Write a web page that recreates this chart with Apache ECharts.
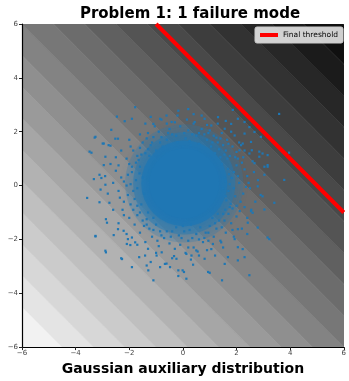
<!DOCTYPE html>
<html>
<head>
<meta charset="utf-8">
<script src="https://cdn.jsdelivr.net/npm/echarts@6/dist/echarts.min.js"></script>
<style>
html, body { margin: 0; padding: 0; background: #fff; }
#main { width: 349px; height: 381px; }
</style>
</head>
<body>
<div id="main"></div>
<script>
// contour levels of x + y (filled bands, light -> dark)
var levels = [-12, -10.5, -9.33, -8.17, -7, -5.83, -4.67, -3.5, -2.33, -1.17, 0,
              1.17, 2.33, 3.5, 4.67, 5.83, 7, 8.17, 9.33, 10.5, 12];

// final threshold line x + y = 5
var thresholdX = [-1, 6];
var thresholdY = [6, -1];

// centre of the dense sample core
var coreCenter = [0.05, 0.08];

// samples around the core
var ringPts = [
  [1.55,0.3],[1.7,-0.2],[1.9,0.5],[2.1,0.1],[1.62,-0.55],[1.85,-0.85],[2.25,-0.3],[1.45,0.8],[2.0,0.75],[2.4,0.35],
  [1.75,0.05],[2.15,-0.6],[1.5,-0.1],[1.95,-0.4],[2.3,0.6],[1.68,0.62],[2.05,1.0],[1.58,-0.9],[2.5,-0.1],[1.82,0.28],
  [1.2,1.2],[1.4,1.05],[1.05,1.45],[1.6,1.3],[1.3,1.6],[0.9,1.7],[1.75,1.1],[1.5,1.5],[1.15,1.85],[1.85,1.45],
  [1.0,2.05],[1.65,1.7],[1.35,1.35],[2.0,1.25],[0.8,1.9],[1.45,1.95],
  [0.3,1.5],[0.1,1.75],[-0.2,1.6],[0.5,1.85],[-0.4,1.9],[0.2,2.05],[-0.1,2.2],[0.6,1.55],[0.4,2.3],[-0.6,1.7],
  [0.0,1.45],[-0.3,2.35],[0.7,2.1],[0.25,1.65],[-0.5,2.1],[0.15,2.45],
  [-1.0,1.3],[-1.2,1.5],[-0.85,1.6],[-1.4,1.2],[-1.1,1.8],[-1.6,1.4],[-0.9,2.0],[-1.35,1.75],[-1.7,1.1],[-1.25,1.1],
  [-1.5,1.6],[-0.75,1.45],[-1.85,1.3],[-1.05,2.2],[-1.6,1.9],
  [-1.5,0.3],[-1.7,-0.1],[-1.9,0.5],[-2.1,0.0],[-1.6,0.7],[-1.8,-0.5],[-2.3,0.3],[-1.45,-0.3],[-2.0,0.8],[-2.4,-0.2],
  [-1.75,0.2],[-2.2,-0.6],[-1.55,-0.7],[-1.95,0.05],[-2.5,0.55],[-1.65,0.95],[-2.1,1.0],[-2.35,-0.45],[-1.85,-0.9],[-2.6,0.1],
  [-1.1,-1.2],[-1.3,-1.0],[-1.0,-1.45],[-1.5,-1.3],[-1.25,-1.6],[-0.85,-1.7],[-1.7,-1.1],[-1.45,-1.5],[-1.15,-1.9],[-1.8,-1.45],
  [-0.95,-2.05],[-1.6,-1.75],[-1.35,-1.25],[-2.0,-1.2],[-0.8,-1.85],[-1.4,-2.1],
  [0.3,-1.45],[0.05,-1.7],[-0.25,-1.55],[0.5,-1.8],[-0.45,-1.9],[0.2,-2.05],[-0.1,-2.2],[0.65,-1.55],[0.4,-2.3],[-0.6,-1.7],
  [0.0,-1.5],[-0.3,-2.35],[0.75,-2.1],[0.25,-1.65],[-0.5,-2.15],[0.1,-2.5],[-0.15,-1.85],[0.55,-2.45],
  [1.1,-1.2],[1.3,-1.05],[1.0,-1.5],[1.55,-1.3],[1.25,-1.6],[0.85,-1.75],[1.7,-1.05],[1.45,-1.55],[1.15,-1.9],[1.8,-1.4],
  [0.95,-2.05],[1.6,-1.75],[1.35,-1.3],[2.0,-1.15],[0.8,-1.95],[1.4,-2.05],
  [1.6,0.15],[1.72,0.42],[1.9,-0.1],[2.05,0.35],[1.78,-0.68],[2.2,0.85],[1.95,1.05],[2.35,-0.05],[2.12,-0.95],[1.66,1.0],
  [1.1,1.6],[1.25,1.78],[0.95,1.95],[1.55,1.15],[1.7,1.55],[0.6,1.95],[0.35,1.9],[0.05,1.95],[-0.25,1.85],[-0.55,1.95],
  [-0.8,1.8],[-1.15,1.6],[-1.3,1.35],[-1.55,1.15],[-1.75,0.85],[-1.9,0.7],[-1.62,0.45],[-2.05,0.4],[-2.2,0.15],[-1.85,-0.2],
  [-2.05,-0.35],[-1.7,-0.75],[-1.95,-0.7],[-1.6,-1.0],[-1.35,-1.45],[-1.1,-1.65],[-0.7,-1.95],[-0.4,-1.7],[-0.05,-1.95],[0.35,-1.95],
  [0.6,-2.0],[0.95,-1.75],[1.2,-1.4],[1.5,-1.05],[1.75,-0.8],[1.6,-0.4],[2.0,-0.75],[2.3,-0.8],[1.4,1.75],[-1.3,1.95],
  [-2.25,-0.9],[-2.4,0.75],[0.9,2.25],[-0.6,2.3],[2.45,0.1],[-0.9,-2.25],[0.2,-2.3],[1.85,-1.65],[2.25,1.05],[-1.95,1.45],
  [2.6,0.9],[2.7,-0.6],[2.3,1.3],[2.4,-1.2],[1.8,2.0],[1.3,2.3],[0.7,2.6],[-0.2,2.6],[-0.8,2.45],[-1.4,2.3],
  [-2.0,1.7],[-2.3,1.3],[-2.7,0.8],[-2.8,-0.3],[-2.6,-0.9],[-2.4,-1.4],[-2.1,-1.8],[-1.7,-2.2],[-1.0,-2.5],[-0.4,-2.7],
  [0.3,-2.75],[0.9,-2.4],[1.5,-2.3],[1.9,-1.9],[2.2,-1.6],[2.55,-0.9],[2.8,0.2],[2.65,0.5],[2.1,1.6],[0.4,2.65],
  [-1.2,2.55],[-2.5,1.05],[-2.9,0.35],[-2.2,-1.1],[-1.3,-2.35],[0.6,-2.6],[1.2,-2.6],[2.4,-1.8],[2.9,-0.35],[1.6,2.4]
];

// sparse outlying samples
var outerPts = [
  [-1.78,2.91],[-2.46,2.56],[-2.17,2.39],[-2.67,2.07],[-3.29,1.78],[-2.99,1.56],[-2.70,1.48],[-2.42,1.74],[-3.48,1.26],[-3.41,1.22],
  [-2.89,1.07],[-2.95,0.76],[-3.11,0.40],[-3.04,0.28],[-3.32,0.24],[-2.89,0.03],[-3.07,-0.15],[-3.57,-0.46],[-3.11,-0.62],[-2.74,-0.64],
  [-2.87,-1.25],[-2.83,-1.38],[-3.26,-1.89],[-2.58,-1.84],[-2.42,-1.62],[-2.87,-2.48],[-2.30,-2.70],[-1.63,-2.66],[-2.09,-2.17],[-1.96,-2.21],
  [-1.78,-2.11],[-1.90,-1.93],[-2.05,-1.99],[-2.21,-1.68],
  [-1.10,-3.52],[-0.85,-3.03],[-0.17,-3.36],[0.13,-3.46],[1.00,-3.24],[-1.35,-2.97],[-1.20,-2.84],[-0.61,-2.90],[-0.48,-3.03],[-0.01,-3.15],
  [0.04,-3.21],[0.38,-2.94],[0.81,-2.72],[-0.24,-2.72],[-0.33,-2.62],[-0.98,-2.60],[-0.79,-2.48],[-1.41,-2.60],[0.13,-2.54],[0.32,-2.60],
  [0.50,-2.41],[1.06,-2.36],[1.12,-2.17],
  [3.59,2.66],[3.96,1.22],[3.78,0.21],[3.41,-0.64],[3.22,-1.99],[2.48,-3.33],[1.46,-3.52],[3.16,1.13],[2.97,1.19],[2.85,1.07],
  [3.16,0.70],[3.04,0.70],[2.67,0.83],[2.48,1.19],[2.57,1.31],[2.91,1.81],[2.67,1.99],[2.48,2.17],[2.30,2.36],[2.05,2.48],
  [1.86,2.81],[2.17,1.50],[2.23,1.56],[2.11,1.31],[2.79,-0.03],[2.97,-0.40],[3.04,-0.89],[2.60,-1.01],[2.42,-1.38],[2.05,-1.62],
  [2.23,-2.36],[1.93,-1.99],[2.30,-2.66],[1.68,-2.66],[1.43,-2.11],[2.05,-2.78],
  [0.20,2.84],[-0.17,2.78],[-1.90,2.48],[-1.10,2.29],[-0.85,2.48],[-0.61,2.60],[-0.42,2.36],[0.44,2.36],[0.81,2.48],[1.06,2.23],
  [1.31,2.54],[1.56,2.11],[1.80,2.29],[1.93,1.86],[2.30,1.93],[2.54,1.62],[2.85,1.26],[3.16,0.76],[3.04,0.40],
  [-2.77,1.50],[-2.52,1.74],[-3.26,1.81],[-2.95,1.56],[-3.26,-1.87],[-2.89,-2.42],[-2.27,-2.73],[-1.90,-3.03],[-1.29,-3.15],[-0.67,-2.91],
  [-0.17,-3.15],[0.94,-3.21],[1.56,-2.91],[2.79,-1.56],[3.16,-1.93],[2.54,-0.95],[2.05,-2.29]
];

var myChart = echarts.init(document.getElementById('main'));

var bandIdx = [];
for (var i = 0; i < levels.length - 1; i++) bandIdx.push([i]);

function bandColor(k) {
    var n = levels.length - 2;
    var g = Math.round(242 - 226 * Math.pow(k / n, 0.95));
    return 'rgb(' + g + ',' + g + ',' + g + ')';
}

function minusFmt(v) {
    return String(v).replace('-', '\u2212');
}

var option = {
    animation: false,
    textStyle: { fontFamily: 'DejaVu Sans' },
    title: {
        text: 'Problem 1: 1 failure mode',
        left: 185,
        top: 2,
        textAlign: 'center',
        textStyle: { fontSize: 15, fontWeight: 'bold', color: '#000', fontFamily: 'DejaVu Sans' }
    },
    legend: {
        data: ['Final threshold'],
        right: 6,
        top: 27,
        padding: [4, 5],
        itemWidth: 18,
        itemHeight: 4,
        icon: 'rect',
        backgroundColor: 'rgba(255,255,255,0.8)',
        borderColor: '#ccc',
        borderWidth: 1,
        borderRadius: 2,
        textStyle: { fontSize: 7.5, color: '#000' }
    },
    grid: { left: 22, right: 2, top: 24, bottom: 30 },
    xAxis: {
        type: 'value',
        min: -6, max: 6, interval: 2,
        name: 'Gaussian auxiliary distribution',
        nameLocation: 'middle',
        nameGap: 13,
        nameTextStyle: { fontSize: 14, fontWeight: 'bold', color: '#000' },
        axisLine: { onZero: false, lineStyle: { color: '#000', width: 1.2 } },
        axisTick: { length: 3, lineStyle: { color: '#222' } },
        axisLabel: { fontSize: 7, color: '#444', margin: 3, formatter: minusFmt },
        splitLine: { show: false },
        z: 50
    },
    yAxis: {
        type: 'value',
        min: -6, max: 6, interval: 2,
        axisLine: { show: true, onZero: false, lineStyle: { color: '#000', width: 1.2 } },
        axisTick: { show: true, length: 3, lineStyle: { color: '#222' } },
        axisLabel: { fontSize: 7, color: '#444', margin: 4, formatter: minusFmt },
        splitLine: { show: false },
        z: 50
    },
    series: [
        {
            type: 'custom',
            name: 'bands',
            clip: true,
            silent: true,
            data: bandIdx,
            renderItem: function (params, api) {
                var k = api.value(0);
                var lo = levels[k], hi = levels[k + 1];
                var pts = [[lo + 30, -30], [hi + 30, -30], [hi - 30, 30], [lo - 30, 30]].map(function (p) {
                    return api.coord(p);
                });
                return {
                    type: 'polygon',
                    shape: { points: pts },
                    style: { fill: bandColor(k), stroke: bandColor(k), lineWidth: 0.5 }
                };
            }
        },
        {
            type: 'custom',
            name: 'core',
            clip: true,
            silent: true,
            data: [coreCenter],
            renderItem: function (params, api) {
                var c = api.coord([api.value(0), api.value(1)]);
                var layers = [
                    { r: 2.2, a: 0.25, blur: 6 },
                    { r: 1.9, a: 0.45, blur: 5 },
                    { r: 1.6, a: 0.75, blur: 4 },
                    { r: 1.3, a: 1, blur: 3 }
                ];
                var children = layers.map(function (l) {
                    var s = api.size([l.r, l.r]);
                    var r = (s[0] + s[1]) / 2;
                    return {
                        type: 'circle',
                        shape: { cx: c[0], cy: c[1], r: r },
                        style: {
                            fill: 'rgba(31,119,180,' + l.a + ')',
                            shadowBlur: l.blur,
                            shadowColor: 'rgba(31,119,180,' + l.a + ')'
                        }
                    };
                });
                return { type: 'group', children: children };
            }
        },
        {
            type: 'scatter',
            name: 'samples',
            data: ringPts.concat(outerPts),
            symbol: 'rect',
            symbolSize: 2.2,
            itemStyle: { color: '#1f77b4', opacity: 1 },
            silent: true
        },
        {
            type: 'line',
            name: 'Final threshold',
            data: thresholdX.map(function (x, i) { return [x, thresholdY[i]]; }),
            showSymbol: false,
            symbol: 'none',
            clip: true,
            lineStyle: { color: '#ff0000', width: 4 },
            itemStyle: { color: '#ff0000' },
            z: 5
        }
    ]
};

myChart.setOption(option);
</script>
</body>
</html>
